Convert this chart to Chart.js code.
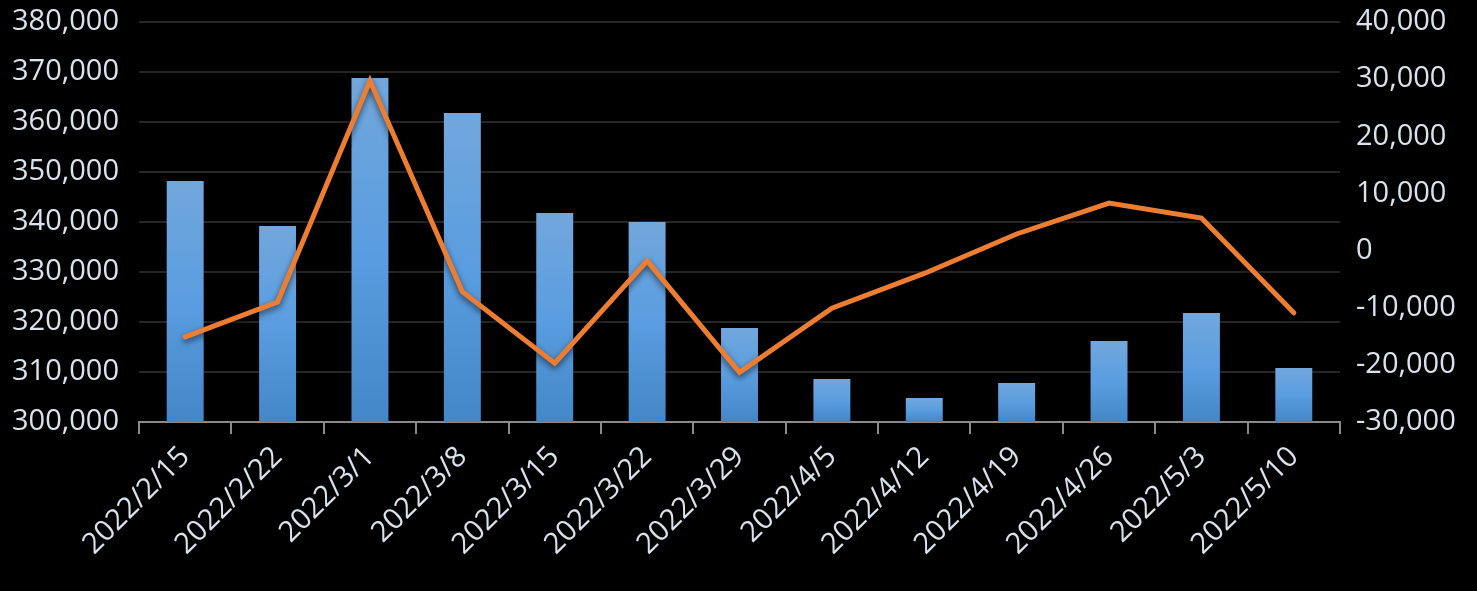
<!DOCTYPE html>
<html lang="zh-Hant">
<head>
    <meta charset="UTF-8">
    <title>Weekly chart</title>
    <script src="https://cdn.jsdelivr.net/npm/chart.js"></script>
    <style>
        html, body { margin: 0; padding: 0; background: #000; }
        .chart-box { width: 1477px; height: 591px; }
    </style>
</head>
<body>
    <div class="chart-box">
        <canvas id="weeklyChart"></canvas>
    </div>

    <script>
        // data
        const weeks = ['2022/2/15', '2022/2/22', '2022/3/1', '2022/3/8', '2022/3/15', '2022/3/22', '2022/3/29',
                       '2022/4/5', '2022/4/12', '2022/4/19', '2022/4/26', '2022/5/3', '2022/5/10'];
        const barValues = [348200, 339200, 368800, 361800, 341800, 340000, 318800,
                           308600, 304800, 307800, 316200, 321800, 310800];
        const lineValues = [-15100, -9000, 29700, -7200, -19700, -1800, -21300,
                            -10100, -4000, 2900, 8300, 5700, -10900];
        const leftTicks = [300000, 310000, 320000, 330000, 340000, 350000, 360000, 370000, 380000];
        const rightTicks = [-30000, -20000, -10000, 0, 10000, 20000, 30000, 40000];

        const textColor = '#d8e3ee';
        const tickFont = { family: 'Open Sans', size: 29 };
        const fmt = v => Number(v).toLocaleString('en-US');

        // gradient per bar, lighter at the top
        function barGradient(context) {
            const chart = context.chart;
            if (!chart.chartArea || !chart.scales.y) return '#5b9bd5';
            const top = chart.scales.y.getPixelForValue(context.raw);
            const bottom = chart.scales.y.getPixelForValue(leftTicks[0]);
            if (!isFinite(top) || bottom - top < 1) return '#5b9bd5';
            const g = chart.ctx.createLinearGradient(0, top, 0, bottom);
            g.addColorStop(0, '#72a7dc');
            g.addColorStop(0.5, '#5a9de0');
            g.addColorStop(1, '#4487c8');
            return g;
        }

        // soft shadow under the orange line
        const lineShadow = {
            id: 'lineShadow',
            beforeDatasetDraw(chart, args) {
                if (args.meta.type === 'line') {
                    chart.ctx.save();
                    chart.ctx.shadowColor = 'rgba(0,0,0,0.6)';
                    chart.ctx.shadowBlur = 6;
                    chart.ctx.shadowOffsetY = 3;
                }
            },
            afterDatasetDraw(chart, args) {
                if (args.meta.type === 'line') chart.ctx.restore();
            }
        };

        // keep the plot area where the original has it
        function fitVertical(width) {
            return function (scale) {
                scale.width = width;
                scale.paddingTop = 0;
                scale.paddingBottom = 0;
            };
        }

        const ctx = document.getElementById('weeklyChart').getContext('2d');
        new Chart(ctx, {
            data: {
                labels: weeks,
                datasets: [
                    {
                        type: 'line',
                        label: 'change',
                        data: lineValues,
                        yAxisID: 'y1',
                        borderColor: '#ed7d31',
                        borderWidth: 5,
                        pointRadius: 0,
                        tension: 0,
                        borderCapStyle: 'round',
                        order: 0
                    },
                    {
                        type: 'bar',
                        label: 'total',
                        data: barValues,
                        yAxisID: 'y',
                        backgroundColor: barGradient,
                        barPercentage: 0.4,
                        categoryPercentage: 1,
                        order: 1
                    }
                ]
            },
            options: {
                responsive: true,
                maintainAspectRatio: false,
                animation: false,
                layout: { padding: { top: 22 } },
                plugins: {
                    legend: { display: false },
                    tooltip: { enabled: false }
                },
                scales: {
                    x: {
                        grid: {
                            offset: true,
                            drawOnChartArea: false,
                            drawTicks: true,
                            tickLength: 12,
                            color: '#8a8a8a',
                            lineWidth: 2
                        },
                        border: { color: '#8a8a8a', width: 2 },
                        ticks: {
                            color: textColor,
                            font: tickFont,
                            minRotation: 45,
                            maxRotation: 45,
                            padding: 6,
                            autoSkip: false
                        },
                        afterFit(scale) { scale.height = 169; }
                    },
                    y: {
                        position: 'left',
                        min: 300000,
                        max: 380000,
                        afterBuildTicks(scale) { scale.ticks = leftTicks.map(v => ({ value: v })); },
                        grid: { color: '#262626', lineWidth: 2, drawTicks: false },
                        border: { display: false },
                        ticks: { color: textColor, font: tickFont, padding: 20, callback: fmt },
                        afterFit: fitVertical(139)
                    },
                    y1: {
                        position: 'right',
                        min: -30000,
                        max: 40000,
                        afterBuildTicks(scale) { scale.ticks = rightTicks.map(v => ({ value: v })); },
                        grid: { display: false },
                        border: { display: false },
                        ticks: { color: textColor, font: tickFont, padding: 8, callback: fmt },
                        afterFit: fitVertical(137)
                    }
                }
            },
            plugins: [lineShadow]
        });
    </script>
</body>
</html>
